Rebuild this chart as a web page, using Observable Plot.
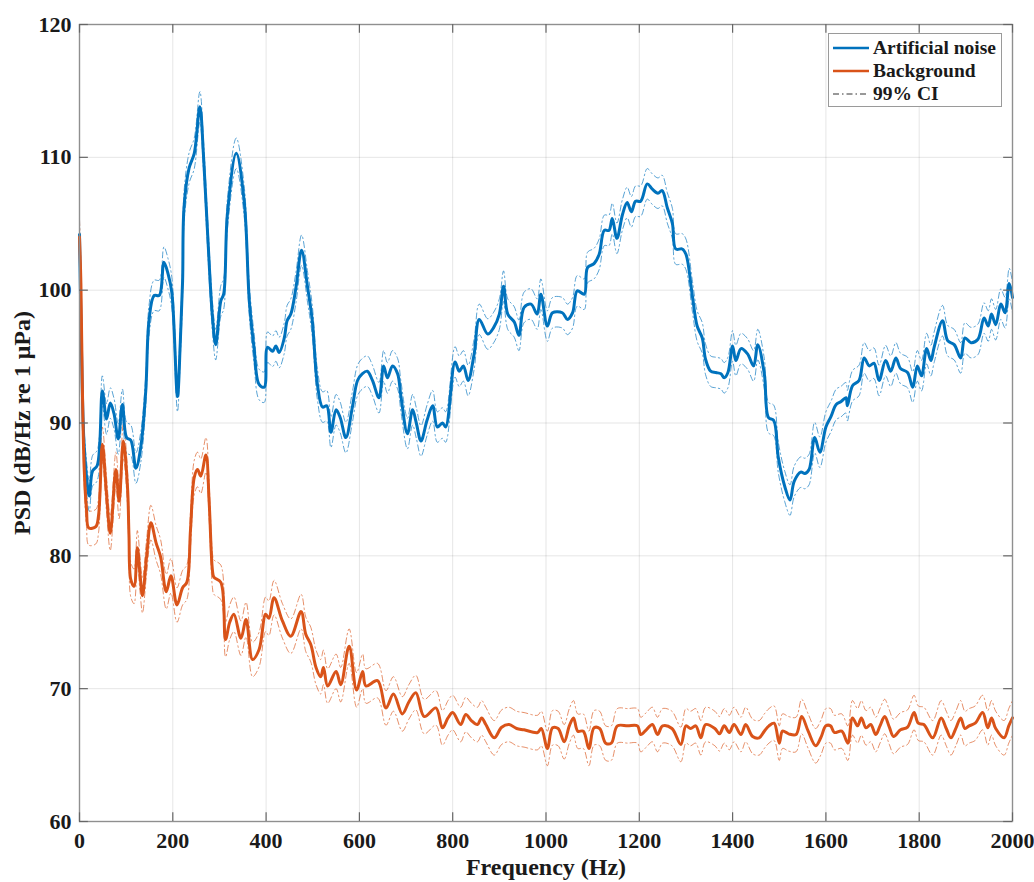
<!DOCTYPE html>
<html>
<head>
<meta charset="utf-8">
<script src="https://cdn.jsdelivr.net/npm/d3@7"></script>
<script src="https://cdn.jsdelivr.net/npm/@observablehq/plot@0.6"></script>
<style>
  html, body { margin: 0; padding: 0; background: #fff; }
  #wrap { position: relative; width: 1034px; height: 882px; }
  #legend {
    position: absolute; left: 828px; top: 33px; width: 174px; height: 74px;
    border: 1px solid #9a9a9a; background: #fff; box-sizing: border-box;
    font-family: "Liberation Serif", "Times New Roman", serif; font-weight: bold;
    font-size: 19.5px; color: #1a1a1a; padding-top: 2px;
  }
  .row { display: flex; align-items: center; height: 23px; }
  .row svg { margin-left: 4px; margin-right: 4px; }
</style>
</head>
<body>
<div id="wrap">
  <div id="chart"></div>
  <div id="legend"></div>
</div>
<script>
// ---------- data ----------
const seriesNames = ["Artificial noise", "Background"];
const seriesColors = ["#0072BD", "#D95319"];
const ciLabel = "99% CI";

const noiseFreq = [0,4,9,15,21,28,38,49,58,66,74,83,92,101,110,121,131,142,149,160,171,181,190,198,210,216,221,224,235,246,258,266,275,285,292,303,309,317,336,353,364,374,385,396,403,414,421,428,439,445,453,464,476,489,499,510,521,530,539,550,559,571,585,596,606,617,628,642,652,660,671,682,689,703,714,722,732,745,757,767,778,785,805,814,823,833,846,857,875,888,900,909,918,932,942,953,968,981,989,1003,1014,1035,1046,1057,1067,1082,1089,1103,1114,1125,1135,1142,1152,1164,1174,1183,1192,1203,1217,1228,1240,1249,1260,1271,1278,1292,1300,1314,1324,1335,1342,1353,1364,1375,1382,1390,1400,1407,1418,1432,1445,1454,1468,1477,1488,1498,1512,1523,1532,1546,1555,1564,1576,1587,1600,1611,1622,1632,1643,1646,1657,1671,1682,1693,1703,1714,1728,1739,1750,1760,1775,1786,1796,1805,1816,1825,1832,1850,1861,1875,1889,1898,1911,1926,1939,1948,1955,1964,1975,1984,1993,2000];
const noisePSD = [104.2,96,89,86,84.5,86.4,86.8,92.4,90.3,91.5,90.7,88.8,91.4,88.9,88.7,86.6,88.1,92.4,97.7,99.6,99.6,102.1,101.2,99.8,92.0,96,100.7,106.2,109.2,110.3,113.8,110,104,98,95.9,99.2,99.7,105.7,110.3,106.7,99.2,95.7,92.9,92.7,95.7,95.4,95.8,95.3,96.4,97.7,98.2,100.2,103.0,100.2,97.7,92.9,91.2,91.3,89.3,91.0,90.4,88.9,91.2,93.2,93.7,93.9,93.2,91.9,94.3,93.4,94.3,93.7,92.0,89.2,91.0,90.0,88.65,90.2,91.3,89.7,90.0,89.7,94.6,93.9,94.3,93.2,95.2,97.8,96.7,97.2,98.2,100.3,98.2,97.6,96.6,98.7,98.95,98.2,99.7,97.3,98.3,98.3,97.8,98.3,99.95,99.7,101.7,102.0,102.7,104.5,104.5,105.4,103.9,105.7,106.6,105.9,106.7,106.7,108.0,107.6,107.3,107.5,106.2,105.0,103.1,103.1,102.7,99.5,97.3,96.4,94.8,93.9,93.8,93.7,93.4,93.8,95.8,94.7,95.6,95.2,94.3,95.9,93.7,90.4,90.2,87.4,85.2,84.2,85.6,86.3,86.2,86.5,88.9,87.8,89.7,90.5,91.4,91.6,91.9,91.3,92.8,93.2,94.9,94.3,94.5,93.2,94.7,93.9,94.9,94.1,93.8,92.7,94.3,93.55,95.6,94.7,95.7,97.7,96.2,95.9,94.9,96.4,96.05,96.3,97.9,97.3,98.2,97.4,98.95,98.3,100.5,99.45];

const backgroundFreq = [0,3,6,10,15,20,35,41,49,58,66,78,85,94,103,106,110,117,124,130,135,144,153,164,174,186,196,209,221,230,238,246,253,260,271,278,285,288,303,313,322,331,346,357,371,385,399,406,417,435,453,475,485,496,507,517,523,532,550,560,578,594,607,614,639,657,673,692,706,721,739,764,778,790,800,817,828,840,853,862,871,889,905,921,937,953,982,990,1003,1014,1026,1039,1050,1059,1068,1080,1092,1103,1115,1128,1140,1153,1175,1196,1203,1215,1228,1239,1250,1270,1289,1300,1310,1321,1332,1342,1362,1372,1382,1393,1403,1418,1428,1443,1457,1468,1478,1489,1500,1507,1520,1536,1548,1562,1578,1589,1600,1610,1618,1634,1647,1657,1668,1676,1686,1696,1707,1716,1726,1736,1745,1760,1775,1789,1798,1810,1829,1847,1858,1868,1879,1889,1898,1907,1920,1936,1947,1955,1964,1982,1992,2000];
const backgroundPSD = [104.0,100.5,93,86.6,83.5,82.1,82.2,83.1,88.4,84.6,81.7,86.5,84.1,88.65,85.1,81.6,78.2,77.7,80.6,78.5,77.0,80,82.5,81.0,79.9,77.3,78.5,76.3,77.6,78,82,85.9,86.5,86.0,87.6,84,78.9,78.4,78.0,73.7,75,75.6,73.8,75.2,72.2,72.95,75.6,75.3,76.85,75.1,73.95,75.8,74.1,73.3,71.6,70.9,71.6,70.2,71.3,70.3,73.2,69.9,71.3,70.2,70.6,68.55,69.6,68.1,69.0,69.7,67.9,68.55,67.05,67.8,68.2,67.3,68.05,67.6,67.3,67.8,67.3,66.3,67.1,67.3,67.0,66.9,66.7,67.0,65.5,67.05,67.0,66.0,67.2,67.8,66.8,66.8,65.5,67.05,67.0,65.9,65.9,67.2,67.2,67.2,66.55,66.9,67.3,66.55,67.2,67.0,65.8,67.2,67.0,67.2,66.3,67.3,67.0,66.6,67.2,66.7,67.3,66.55,67.3,66.4,66.3,66.8,67.2,67.4,65.9,66.8,66.6,66.55,67.9,66.8,65.7,66.3,67.2,67.2,66.7,66.8,65.9,67.8,67.2,67.8,67.05,67.3,66.55,67.2,67.9,67.1,66.4,66.9,67.1,68.2,67.4,67.3,66.3,67.8,67.0,66.3,67.05,67.8,67.0,67.2,67.4,68.2,67.05,67.8,67.0,66.3,67.2,67.8];

// 99% CI half-widths (dB)
const ciHalfWidth = [1.15, 1.3];

const xTicks = [0,200,400,600,800,1000,1200,1400,1600,1800,2000];
const yTicks = [60,70,80,90,100,110,120];
const xTitle = "Frequency (Hz)";
const yTitle = "PSD (dB/Hz re 1 μPa)";

// ---------- build tables ----------
const rows = [];
[[noiseFreq, noisePSD], [backgroundFreq, backgroundPSD]].forEach(([fs, ps], k) => {
  fs.forEach((f, i) => rows.push({series: seriesNames[k], f, psd: ps[i],
    lo: ps[i] - ciHalfWidth[k], hi: ps[i] + ciHalfWidth[k]}));
});

const font = '"Liberation Serif", "Times New Roman", serif';
const colorScale = {domain: seriesNames, range: seriesColors};

const chart = Plot.plot({
  width: 1034,
  height: 882,
  marginLeft: 79,
  marginRight: 22,
  marginTop: 24,
  marginBottom: 61,
  style: {fontFamily: font, fontWeight: "bold", fontSize: "22px", color: "#1a1a1a", background: "#fff"},
  x: {domain: [0, 2000]},
  y: {domain: [60, 120]},
  color: colorScale,
  marks: [
    Plot.gridX(xTicks, {stroke: "#000", strokeOpacity: 0.1, strokeWidth: 1}),
    Plot.gridY(yTicks, {stroke: "#000", strokeOpacity: 0.1, strokeWidth: 1}),
    // CI bands (dash-dot)
    Plot.line(rows, {x: "f", y: "hi", z: "series", stroke: "series", strokeWidth: 1, strokeOpacity: 0.65,
      strokeDasharray: "6,3,1.5,3", curve: "catmull-rom"}),
    Plot.line(rows, {x: "f", y: "lo", z: "series", stroke: "series", strokeWidth: 1, strokeOpacity: 0.65,
      strokeDasharray: "6,3,1.5,3", curve: "catmull-rom"}),
    // Main PSD curves
    Plot.line(rows, {x: "f", y: "psd", z: "series", stroke: "series", strokeWidth: 3, curve: "catmull-rom"}),
    Plot.frame({stroke: "#8f8f8f", strokeWidth: 1.4}),
    // inward tick marks (MATLAB style) on all four sides
    Plot.ruleX(xTicks, {x: d => d, y1: 60, y2: 60.65, stroke: "#666", strokeWidth: 1.2}),
    Plot.ruleX(xTicks, {x: d => d, y1: 120, y2: 119.35, stroke: "#666", strokeWidth: 1.2}),
    Plot.ruleY(yTicks, {y: d => d, x1: 0, x2: 19, stroke: "#666", strokeWidth: 1.2}),
    Plot.ruleY(yTicks, {y: d => d, x1: 2000, x2: 1981, stroke: "#666", strokeWidth: 1.2}),
    // tick labels
    Plot.axisX({ticks: xTicks, tickSize: 0, tickPadding: 11, tickFormat: d => String(d), label: null, fontSize: 22}),
    Plot.axisY({ticks: yTicks, tickSize: 0, tickPadding: 8, tickFormat: d => String(d), label: null, fontSize: 22}),
    // axis titles
    Plot.axisX({ticks: [], tickSize: 0, label: xTitle, labelAnchor: "center", labelArrow: "none", labelOffset: 53, fontSize: 24}),
    Plot.axisY({ticks: [], tickSize: 0, label: yTitle, labelAnchor: "center", labelArrow: "none", labelOffset: 67, fontSize: 24})
  ]
});
document.getElementById("chart").appendChild(chart);

// ---------- legend ----------
const legend = document.getElementById("legend");
const entries = [
  {label: seriesNames[0], color: seriesColors[0], dash: null, w: 2.5},
  {label: seriesNames[1], color: seriesColors[1], dash: null, w: 2.5},
  {label: ciLabel, color: "#333", dash: "6,3,1.5,3", w: 1}
];
for (const e of entries) {
  const row = document.createElement("div");
  row.className = "row";
  row.innerHTML = `<svg width="36" height="10"><line x1="0" x2="36" y1="5" y2="5" stroke="${e.color}" stroke-width="${e.w}" ${e.dash ? `stroke-dasharray="${e.dash}"` : ""}/></svg><span>${e.label}</span>`;
  legend.appendChild(row);
}
</script>
</body>
</html>
